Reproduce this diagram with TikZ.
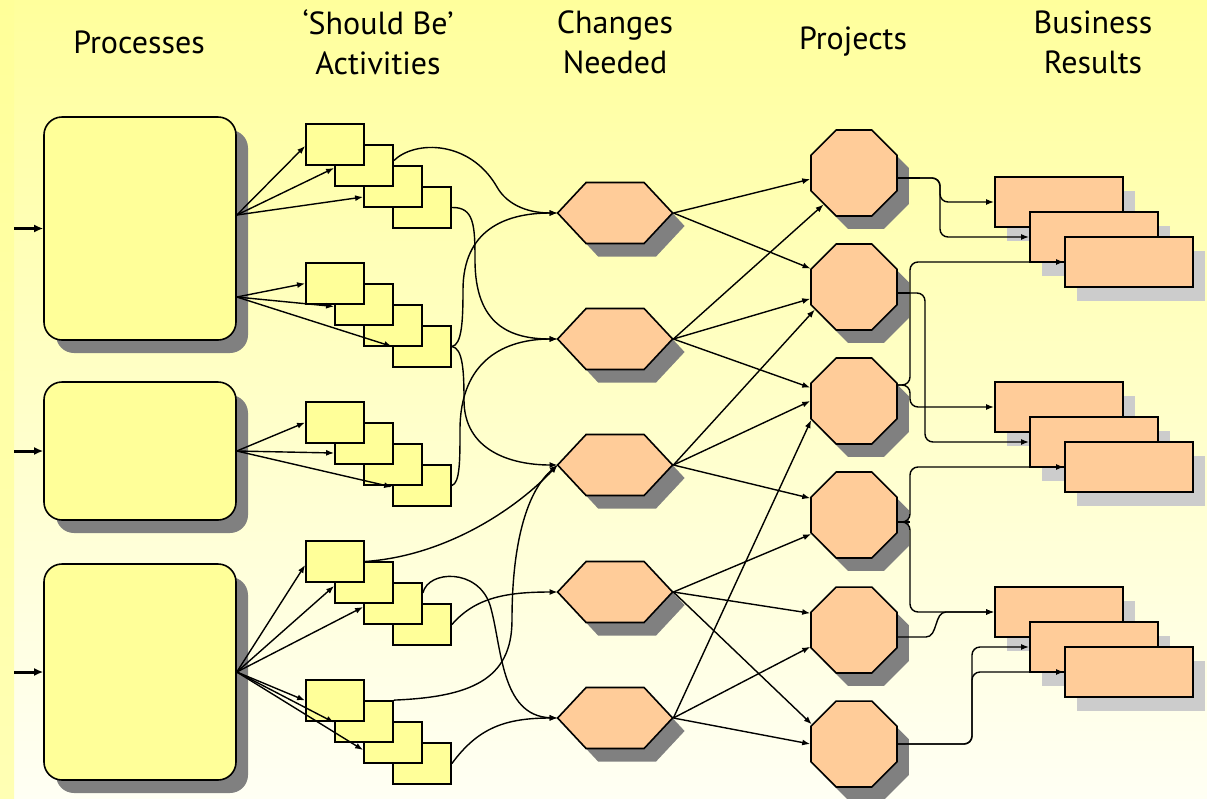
\documentclass[tikz,border=0pt]{standalone}
\usepackage{fontspec}
\newfontfamily\hdrfont{PT Sans}
\usetikzlibrary{shapes.geometric,shadows,arrows.meta}
\definecolor{bgtop}{HTML}{FFFF9C}
\definecolor{bgbot}{HTML}{FFFFF4}
\definecolor{striptop}{HTML}{FFFF99}
\definecolor{stripbot}{HTML}{FFFFB4}
\definecolor{procfill}{HTML}{FFFF99}
\definecolor{peach}{HTML}{FFCC99}
\definecolor{shadowdark}{HTML}{808080}
\definecolor{shadowlight}{HTML}{CCCCCC}

\begin{document}
\begin{tikzpicture}[x=0.5pt,y=-0.5pt,
  hdr/.style={font=\hdrfont\fontsize{16pt}{20pt}\selectfont, align=center, inner sep=0pt},
  darkshadow/.style={drop shadow={shadow xshift=6pt, shadow yshift=-6.5pt, fill=shadowdark, opacity=1}},
  proc/.style={draw=black, line width=0.8pt, fill=procfill, rounded corners=9pt, minimum width=96pt, inner sep=0pt, darkshadow},
  actbox/.style={draw=black, line width=0.9pt, fill=procfill, minimum width=29pt, minimum height=20.5pt, inner sep=0pt},
  hexbox/.style={minimum width=57.5pt, minimum height=30.5pt, inner sep=0pt},
  hexline/.style={draw=black, line width=0.8pt, fill=peach},
  proj/.style={regular polygon, regular polygon sides=8, minimum size=46.5pt, inner sep=0pt, draw=black, line width=0.8pt, fill=peach, darkshadow},
  result/.style={draw=black, line width=0.9pt, fill=peach, minimum width=64pt, minimum height=25pt, inner sep=0pt, drop shadow={shadow xshift=6pt, shadow yshift=-7pt, fill=shadowlight, opacity=1}},
  link/.style={draw=black, line width=0.7pt, -{Latex[length=4pt,width=3pt]}},
  feed/.style={draw=black, line width=1.5pt, -{Latex[length=4.5pt,width=4pt]}},
  route/.style={link, rounded corners=4pt},
  stub/.style={draw=black, line width=1.4pt},
]
% background
\shade[top color=bgtop, bottom color=bgbot] (14,0) rectangle (1207,799);
\shade[top color=striptop, bottom color=stripbot] (0,0) rectangle (14,799);
\useasboundingbox (0,0) rectangle (1207,799);

% column headings
\node[hdr] (t1) at (139,42) {Processes};
\node[hdr] (t2) at (378,42) {‘Should Be’\\Activities};
\node[hdr] (t3) at (615,42) {Changes\\Needed};
\node[hdr] (t4) at (853,42) {Projects};
\node[hdr] (t5) at (1093,42) {Business\\Results};

% processes
\node[proc, minimum height=111.5pt] (p1) at (140,228.5) {};
\node[proc, minimum height=69pt] (p2) at (140,451) {};
\node[proc, minimum height=108pt] (p3) at (140,672) {};

% stacked activity cards (front card drawn last)
\foreach \g/\t in {1/124,2/263,3/402,4/541,5/680}
  \foreach \k in {4,3,2,1}
    \node[actbox] (a\g\k) at ({335+29*(\k-1)},{\t+20.5+21*(\k-1)}) {};

% changes needed (flattened hexagons)
\foreach \n/\y in {1/213,2/339,3/465,4/592,5/718}{
  \node[hexbox] (h\n) at (615.5,\y) {};
  \fill[shadowdark] ([xshift=6pt,yshift=-6.5pt]h\n.west) -- ++(28.5,-30.5) -- ++(58,0) -- ++(28.5,30.5) -- ++(-28.5,30.5) -- ++(-58,0) -- cycle;
  \path[hexline] (h\n.west) -- ++(28.5,-30.5) -- ++(58,0) -- ++(28.5,30.5) -- ++(-28.5,30.5) -- ++(-58,0) -- cycle;
}

% projects
\foreach \n/\y in {1/173,2/287,3/401,4/515,5/630,6/744}
  \node[proj] (o\n) at (854,\y) {};

% business results
\foreach \g/\dy in {1/0,2/205,3/410}{
  \node[result] (r\g1) at (1059,{202+\dy}) {};
  \node[result] (r\g2) at (1094,{237+\dy}) {};
  \node[result] (r\g3) at (1129,{262+\dy}) {};
}

% inputs
\coordinate (in1) at (14,228.5);
\coordinate (in2) at (14,451);
\coordinate (in3) at (14,672);
\draw[feed] (in1) -- (p1.west);
\draw[feed] (in2) -- (p2.west);
\draw[feed] (in3) -- (p3.west);

% processes -> activities
\draw[link] ([yshift=6.75pt]p1.east) -- ([yshift=-0.75pt]a11.west);
\draw[link] ([yshift=6.75pt]p1.east) -- ([yshift=-1.25pt]a12.west);
\draw[link] ([yshift=6.75pt]p1.east) -- ([yshift=-5.25pt]a13.west);
\draw[link] ([yshift=-34.25pt]p1.east) -- (a21.west);
\draw[link] ([yshift=-34.25pt]p1.east) -- ([yshift=-1pt]a22.west);
\draw[link] ([yshift=-34.25pt]p1.east) -- (a24.west);
\draw[link] (p2.east) -- (a31.west);
\draw[link] (p2.east) -- ([yshift=-4.75pt]a32.west);
\draw[link] (p2.east) -- ([yshift=-0.75pt]a34.west);
\draw[link] (p3.east) -- ([yshift=-1.75pt]a41.west);
\draw[link] (p3.east) -- ([yshift=-1.75pt]a42.west);
\draw[link] (p3.east) -- ([yshift=-1.75pt]a43.west);
\draw[link] (p3.east) -- (a51.west);
\draw[link] (p3.east) -- ([yshift=-0.5pt]a52.west);
\draw[link] (p3.east) -- ([yshift=-3.75pt]a53.west);

% activities -> changes
\draw[link] ([yshift=2.5pt]a12.east) .. controls (415,140) and (470,140) .. (497,187) .. controls (506,203) and (525,213) .. (h1.west);
\draw[link] (a14.east) .. controls (474,207) and (475,225) .. (475,260) .. controls (475,325) and (510,339) .. (h2.west);
\draw[link] (a24.east) .. controls (462,345) and (463,320) .. (463,290) .. controls (463,230) and (505,213) .. (h1.west);
\draw[link] (a24.east) .. controls (463,348) and (464,372) .. (464,400) .. controls (464,450) and (510,465) .. (h3.west);
\draw[link] (a34.east) .. controls (460,483) and (460,460) .. (460,430) .. controls (460,360) and (505,339) .. (h2.west);
\draw[link] (a41.east) .. controls (445,556) and (515,510) .. (h3.west);
\draw[link] (a52.north east) .. controls (470,697) and (512,680) .. (512,620) .. controls (512,540) and (528,490) .. (h3.west);
\draw[link] ([yshift=5.25pt]a43.east) .. controls (428,570) and (478,568) .. (490,605) .. controls (502,645) and (500,716) .. (h5.west);
\draw[link] (a44.east) .. controls (475,598) and (505,592) .. (h4.west);
\draw[link] (a54.east) .. controls (478,728) and (505,718) .. (h5.west);

% changes -> projects
\draw[link] (h1.east) -- (o1.188);
\draw[link] (h1.east) -- (o2.157);
\draw[link] (h2.east) -- (o1.226);
\draw[link] (h2.east) -- (o2.195);
\draw[link] (h2.east) -- (o3.163);
\draw[link] (h3.east) -- (o2.210);
\draw[link] (h3.east) -- (o3.180);
\draw[link] (h3.east) -- (o4.159);
\draw[link] (h4.east) -- (o4.204);
\draw[link] (h4.east) -- (o5.159);
\draw[link] (h4.east) -- (o6.155);
\draw[link] (h5.east) -- (o3.204);
\draw[link] (h5.east) -- (o5.201);
\draw[link] (h5.east) -- (o6.180);

% projects -> business results
\draw[route] ([yshift=-2.5pt]o1.east) -- (940,178) -- (940,202) -- (r11.west);
\draw[route] ([yshift=-2.5pt]o1.east) -- (940,178) -- (940,237) -- (r12.west);
\draw[route] ([yshift=-3pt]o2.east) -- (925,293) -- (925,442) -- (r22.west);
\draw[route] ([yshift=8pt]o3.east) -- (910,385) -- (910,262) -- (r13.west);
\draw[route] ([yshift=8pt]o3.east) -- (910,385) -- (910,407) -- (r21.west);
\draw[route] ([yshift=-3.5pt]o4.east) -- (910,522) -- (910,467) -- (r23.west);
\draw[route] ([yshift=-3.5pt]o4.east) -- (910,522) -- (910,612) -- (r31.west);
\draw[link] ([yshift=-3.5pt]o5.east) -- (926,637) .. controls (938,637) and (934,612) .. (946,612) -- (r31.west);
\draw[route] (o6.east) -- (972,744) -- (972,647) -- (r32.west);
\draw[route] (o6.east) -- (972,744) -- (972,672) -- (r33.west);

% heavier line where routes leave a project
\draw[stub] ([yshift=-2.5pt]o1.east) -- ++(22,0);
\draw[stub] ([yshift=-3pt]o2.east) -- ++(12,0);
\draw[stub] ([yshift=-3.5pt]o4.east) -- ++(12,0);
\end{tikzpicture}
\end{document}
